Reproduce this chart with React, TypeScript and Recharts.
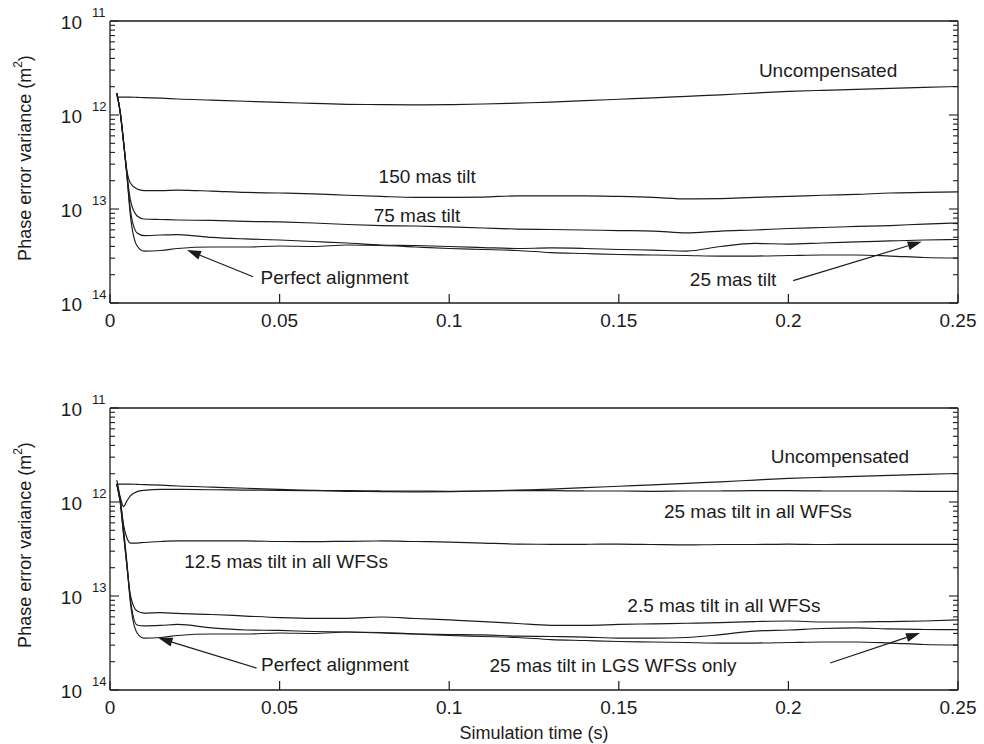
import React from "react";
import { LineChart, Line, XAxis, YAxis, ReferenceLine, ReferenceDot } from "recharts";

// simulation time (s)
const times = [
  0.002, 0.003, 0.004, 0.005, 0.006, 0.008, 0.01, 0.015, 0.02, 0.03, 0.04, 0.05, 0.06, 0.07, 0.08, 0.09,
  0.1, 0.11, 0.12, 0.13, 0.14, 0.15, 0.16, 0.17, 0.18, 0.19, 0.2, 0.21, 0.22, 0.23, 0.24, 0.25,
];

// phase error variance (m^2)
const uncompensated = [
  1.55e-12, 1.55e-12, 1.55e-12, 1.55e-12, 1.55e-12, 1.54e-12, 1.53e-12, 1.51e-12, 1.48e-12, 1.44e-12, 1.4e-12,
  1.36e-12, 1.33e-12, 1.3e-12, 1.29e-12, 1.28e-12, 1.29e-12, 1.31e-12, 1.34e-12, 1.37e-12, 1.42e-12, 1.47e-12,
  1.52e-12, 1.58e-12, 1.64e-12, 1.71e-12, 1.78e-12, 1.83e-12, 1.87e-12, 1.92e-12, 1.97e-12, 2.01e-12,
];
const tilt150 = [
  1.71e-12, 1.08e-12, 5.16e-13, 2.54e-13, 1.89e-13, 1.63e-13, 1.57e-13, 1.57e-13, 1.59e-13, 1.55e-13, 1.5e-13,
  1.48e-13, 1.45e-13, 1.4e-13, 1.36e-13, 1.33e-13, 1.33e-13, 1.34e-13, 1.38e-13, 1.38e-13, 1.38e-13, 1.36e-13,
  1.33e-13, 1.28e-13, 1.29e-13, 1.33e-13, 1.36e-13, 1.4e-13, 1.43e-13, 1.48e-13, 1.5e-13, 1.52e-13,
];
const tilt75 = [
  1.71e-12, 1.08e-12, 5.16e-13, 2.36e-13, 1.25e-13, 8.43e-14, 7.83e-14, 7.73e-14, 7.64e-14, 7.55e-14, 7.37e-14,
  7.28e-14, 7.1e-14, 6.84e-14, 6.67e-14, 6.59e-14, 6.44e-14, 6.28e-14, 6.12e-14, 6.05e-14, 5.98e-14, 5.9e-14,
  5.83e-14, 5.56e-14, 5.83e-14, 5.98e-14, 6.2e-14, 6.36e-14, 6.52e-14, 6.67e-14, 6.92e-14, 7.1e-14,
];
const tilt25 = [
  1.71e-12, 1.08e-12, 5.16e-13, 2.3e-13, 9.76e-14, 5.56e-14, 5.22e-14, 5.29e-14, 5.35e-14, 4.98e-14, 4.8e-14,
  4.68e-14, 4.51e-14, 4.35e-14, 4.14e-14, 4.09e-14, 3.99e-14, 3.89e-14, 3.8e-14, 3.85e-14, 3.8e-14, 3.71e-14,
  3.66e-14, 3.57e-14, 3.99e-14, 4.3e-14, 4.24e-14, 4.35e-14, 4.46e-14, 4.57e-14, 4.68e-14, 4.74e-14,
];
const perfect = [
  1.71e-12, 1.08e-12, 5.16e-13, 2.24e-13, 8.63e-14, 4.04e-14, 3.57e-14, 3.62e-14, 3.8e-14, 3.94e-14, 3.94e-14,
  4.04e-14, 3.99e-14, 4.14e-14, 4.09e-14, 3.94e-14, 3.8e-14, 3.71e-14, 3.62e-14, 3.44e-14, 3.36e-14, 3.28e-14,
  3.24e-14, 3.2e-14, 3.16e-14, 3.16e-14, 3.2e-14, 3.24e-14, 3.24e-14, 3.16e-14, 3.05e-14, 3.01e-14,
];
const allWfs25 = [
  1.55e-12, 1.13e-12, 8.95e-13, 1.03e-12, 1.16e-12, 1.29e-12, 1.33e-12, 1.36e-12, 1.36e-12, 1.35e-12, 1.34e-12,
  1.33e-12, 1.32e-12, 1.32e-12, 1.31e-12, 1.31e-12, 1.3e-12, 1.31e-12, 1.32e-12, 1.32e-12, 1.31e-12, 1.31e-12,
  1.3e-12, 1.31e-12, 1.31e-12, 1.32e-12, 1.32e-12, 1.31e-12, 1.31e-12, 1.31e-12, 1.3e-12, 1.3e-12,
];
const allWfs12 = [
  1.55e-12, 1.05e-12, 5.69e-13, 4.14e-13, 3.66e-13, 3.66e-13, 3.71e-13, 3.8e-13, 3.85e-13, 3.85e-13, 3.85e-13,
  3.8e-13, 3.78e-13, 3.82e-13, 3.85e-13, 3.8e-13, 3.75e-13, 3.66e-13, 3.57e-13, 3.55e-13, 3.55e-13, 3.57e-13,
  3.53e-13, 3.49e-13, 3.53e-13, 3.53e-13, 3.57e-13, 3.53e-13, 3.55e-13, 3.55e-13, 3.55e-13, 3.55e-13,
];
const allWfs2 = [
  1.55e-12, 1.0e-12, 4.57e-13, 2.08e-13, 1.03e-13, 6.92e-14, 6.59e-14, 6.67e-14, 6.52e-14, 6.36e-14, 6.12e-14,
  5.9e-14, 5.79e-14, 5.79e-14, 5.98e-14, 5.76e-14, 5.56e-14, 5.35e-14, 5.1e-14, 4.88e-14, 4.88e-14, 4.98e-14,
  5.06e-14, 5.13e-14, 5.22e-14, 5.35e-14, 5.42e-14, 5.29e-14, 5.29e-14, 5.35e-14, 5.42e-14, 5.56e-14,
];
const lgsOnly25 = [
  1.55e-12, 1.0e-12, 4.57e-13, 2.08e-13, 9.29e-14, 4.91e-14, 4.8e-14, 4.86e-14, 4.98e-14, 4.57e-14, 4.35e-14,
  4.3e-14, 4.19e-14, 4.14e-14, 4.04e-14, 3.94e-14, 3.89e-14, 3.85e-14, 3.75e-14, 3.71e-14, 3.66e-14, 3.57e-14,
  3.57e-14, 3.62e-14, 3.89e-14, 4.24e-14, 4.35e-14, 4.51e-14, 4.57e-14, 4.46e-14, 4.4e-14, 4.38e-14,
];

const xTicks = [0, 0.05, 0.1, 0.15, 0.2, 0.25];
const decades = [1e-14, 1e-13, 1e-12, 1e-11];
const yTicks = [
  ...decades.slice(0, 3).flatMap((d) => [1, 2, 3, 4, 5, 6, 7, 8, 9].map((m) => m * d)),
  1e-11,
];

const topNotes = [
  { text: "Uncompensated", t: 0.2117, v: 3.0e-12 },
  { text: "150 mas tilt", t: 0.0935, v: 2.24e-13 },
  { text: "75 mas tilt", t: 0.0905, v: 8.6e-14 },
  { text: "Perfect alignment", t: 0.0662, v: 1.89e-14 },
  { text: "25 mas tilt", t: 0.1837, v: 1.76e-14 },
];
const topArrows = [
  { t1: 0.0422, v1: 1.9e-14, t2: 0.0227, v2: 3.66e-14 },
  { t1: 0.2014, v1: 1.73e-14, t2: 0.2393, v2: 4.49e-14 },
];
const bottomNotes = [
  { text: "Uncompensated", t: 0.2152, v: 3.03e-12 },
  { text: "25 mas tilt in all WFSs", t: 0.191, v: 7.88e-13 },
  { text: "12.5 mas tilt in all WFSs", t: 0.0519, v: 2.33e-13 },
  { text: "2.5 mas tilt in all WFSs", t: 0.181, v: 7.88e-14 },
  { text: "Perfect alignment", t: 0.0663, v: 1.86e-14 },
  { text: "25 mas tilt in LGS WFSs only", t: 0.1483, v: 1.81e-14 },
];
const bottomArrows = [
  { t1: 0.0432, v1: 1.71e-14, t2: 0.0143, v2: 3.57e-14 },
  { t1: 0.2123, v1: 1.94e-14, t2: 0.2388, v2: 4.04e-14 },
];

const topRows = times.map((t, i) => ({
  t,
  unc: uncompensated[i],
  tilt150: tilt150[i],
  tilt75: tilt75[i],
  tilt25: tilt25[i],
  perfect: perfect[i],
}));
const bottomRows = times.map((t, i) => ({
  t,
  unc: uncompensated[i],
  all25: allWfs25[i],
  all12: allWfs12[i],
  all2: allWfs2[i],
  lgs25: lgsOnly25[i],
  perfect: perfect[i],
}));

const FONT = '"Liberation Sans", Arial, Helvetica, sans-serif';
const INK = "#1c1c1c";

const isDecade = (v: number) => Math.abs(Math.log10(v) - Math.round(Math.log10(v))) < 1e-6;

const XTick = (props: any) => {
  const { x, y, payload } = props;
  return (
    <g>
      <line x1={x} y1={y} x2={x} y2={y - 9} stroke={INK} strokeWidth={1.2} />
      <text x={x} y={y + 17} textAnchor="middle" dominantBaseline="central" fontSize={19} fontFamily={FONT} fill={INK}>
        {String(payload.value)}
      </text>
    </g>
  );
};

const LeftTick = (props: any) => {
  const { x, y, payload } = props;
  const major = isDecade(payload.value);
  return (
    <g>
      <line x1={x} y1={y} x2={x + (major ? 9 : 5)} y2={y} stroke={INK} strokeWidth={1.1} />
      {major && (
        <>
          <text x={x - 28} y={y + 1} textAnchor="end" dominantBaseline="central" fontSize={19} fontFamily={FONT} fill={INK}>
            10
          </text>
          <text x={x - 18} y={y - 9} textAnchor="start" dominantBaseline="central" fontSize={13} fontFamily={FONT} fill={INK}>
            {String(-Math.round(Math.log10(payload.value)))}
          </text>
        </>
      )}
    </g>
  );
};

const RightTick = (props: any) => {
  const { x, y, payload } = props;
  const major = isDecade(payload.value);
  return <line x1={x} y1={y} x2={x - (major ? 9 : 5)} y2={y} stroke={INK} strokeWidth={1.1} />;
};

const YTitle = (props: any) => {
  const vb = props.viewBox || {};
  const cx = vb.x - 25;
  const cy = vb.y + vb.height / 2 - 4;
  return (
    <text
      x={cx}
      y={cy}
      transform={`rotate(-90, ${cx}, ${cy})`}
      textAnchor="middle"
      dominantBaseline="central"
      fontSize={18}
      fontFamily={FONT}
      fill={INK}
    >
      Phase error variance (m
      <tspan dy={-7} fontSize={12}>
        2
      </tspan>
      <tspan dy={7}>)</tspan>
    </text>
  );
};

const XTitle = (props: any) => {
  const vb = props.viewBox || {};
  return (
    <text
      x={vb.x + vb.width / 2}
      y={vb.y + 43}
      textAnchor="middle"
      dominantBaseline="central"
      fontSize={18}
      fontFamily={FONT}
      fill={INK}
    >
      Simulation time (s)
    </text>
  );
};

const ArrowShape = (props: any) => {
  const { x1, y1, x2, y2 } = props;
  const ang = Math.atan2(y2 - y1, x2 - x1);
  const len = 14;
  const half = 4.5;
  const bx = x2 - len * Math.cos(ang);
  const by = y2 - len * Math.sin(ang);
  const px = -Math.sin(ang) * half;
  const py = Math.cos(ang) * half;
  return (
    <g>
      <line x1={x1} y1={y1} x2={bx} y2={by} stroke={INK} strokeWidth={1.2} />
      <polygon points={`${x2},${y2} ${bx + px},${by + py} ${bx - px},${by - py}`} fill={INK} />
    </g>
  );
};

interface Note {
  text: string;
  t: number;
  v: number;
}

interface Arrow {
  t1: number;
  v1: number;
  t2: number;
  v2: number;
}

interface PanelProps {
  rows: Record<string, number>[];
  keys: string[];
  notes: Note[];
  arrows: Arrow[];
  top: number;
  height: number;
  marginTop: number;
  marginBottom: number;
  showXTitle?: boolean;
}

const Panel: React.FC<PanelProps> = ({ rows, keys, notes, arrows, top, height, marginTop, marginBottom, showXTitle }) => (
  <div style={{ position: "absolute", left: 0, top, width: 984, height }}>
    <LineChart width={984} height={height} data={rows} margin={{ top: marginTop, right: 10, bottom: marginBottom, left: 50 }}>
      <XAxis
        dataKey="t"
        type="number"
        domain={[0, 0.25]}
        ticks={xTicks}
        interval={0}
        height={40}
        tickSize={0}
        tickMargin={0}
        tickLine={false}
        tick={<XTick />}
        axisLine={{ stroke: INK, strokeWidth: 1.3 }}
        allowDataOverflow
        label={showXTitle ? (p: any) => <XTitle {...p} /> : undefined}
      />
      <YAxis
        type="number"
        scale="log"
        domain={[1e-14, 1e-11]}
        ticks={yTicks}
        interval={0}
        width={60}
        tickSize={0}
        tickMargin={0}
        tickLine={false}
        tick={<LeftTick />}
        axisLine={{ stroke: INK, strokeWidth: 1.3 }}
        allowDataOverflow
        label={(p: any) => <YTitle {...p} />}
      />
      <YAxis
        yAxisId="r"
        orientation="right"
        type="number"
        scale="log"
        domain={[1e-14, 1e-11]}
        ticks={yTicks}
        interval={0}
        width={16}
        tickSize={0}
        tickMargin={0}
        tickLine={false}
        tick={<RightTick />}
        axisLine={{ stroke: INK, strokeWidth: 1.3 }}
        allowDataOverflow
      />
      <ReferenceLine y={1e-11} stroke={INK} strokeWidth={1.3} />
      {keys.map((k) => (
        <Line
          key={k}
          dataKey={k}
          type="monotone"
          stroke={INK}
          strokeWidth={1.2}
          dot={false}
          activeDot={false}
          isAnimationActive={false}
        />
      ))}
      {notes.map((n) => (
        <ReferenceDot
          key={n.text}
          x={n.t}
          y={n.v}
          r={0}
          shape={(p: any) => (
            <text x={p.cx} y={p.cy} textAnchor="middle" dominantBaseline="central" fontSize={19} fontFamily={FONT} fill={INK}>
              {n.text}
            </text>
          )}
        />
      ))}
      {arrows.map((a, i) => (
        <ReferenceLine
          key={i}
          segment={[
            { x: a.t1, y: a.v1 },
            { x: a.t2, y: a.v2 },
          ]}
          shape={(p: any) => <ArrowShape {...p} />}
        />
      ))}
    </LineChart>
  </div>
);

const App: React.FC = () => (
  <div style={{ position: "absolute", left: 0, top: 0, width: 984, height: 744, background: "#fff", fontFamily: FONT }}>
    <Panel
      rows={topRows}
      keys={["unc", "tilt150", "tilt75", "tilt25", "perfect"]}
      notes={topNotes}
      arrows={topArrows}
      top={0}
      height={372}
      marginTop={21}
      marginBottom={29}
    />
    <Panel
      rows={bottomRows}
      keys={["unc", "all25", "all12", "all2", "lgs25", "perfect"]}
      notes={bottomNotes}
      arrows={bottomArrows}
      top={372}
      height={372}
      marginTop={36}
      marginBottom={14}
      showXTitle
    />
  </div>
);

export default App;
